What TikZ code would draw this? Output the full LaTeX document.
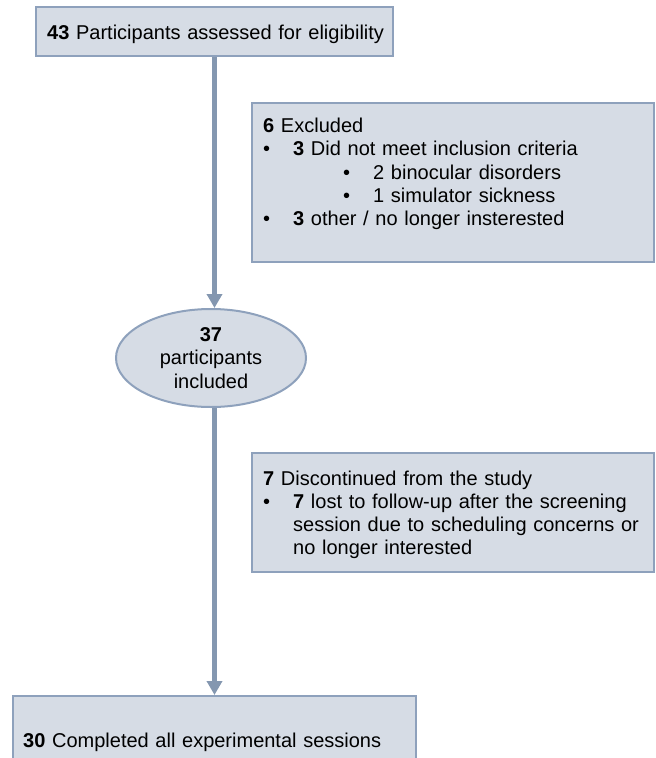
\documentclass[tikz,border=0pt]{standalone}
\usepackage{fontspec}
\setmainfont{Liberation Sans}
\usetikzlibrary{shapes.geometric,arrows.meta}
\definecolor{boxfill}{HTML}{D6DCE5}
\definecolor{boxline}{HTML}{8EA1BC}
\definecolor{arrowc}{HTML}{8497B0}
\newcommand{\bul}{\makebox[30pt][l]{•}}
\newcommand{\subbul}{\hspace*{80pt}\makebox[30pt][l]{•}}
\newcommand{\ind}{\hspace*{30pt}}
\begin{document}
\begin{tikzpicture}[x=1pt,y=-1pt,
  box/.style={draw=boxline, fill=boxfill, line width=2pt, rectangle, inner sep=0pt},
  ell/.style={draw=boxline, fill=boxfill, line width=2pt, ellipse, inner sep=0pt, align=center, font=\fontsize{20}{23.3}\selectfont},
  txt/.style={inner sep=0pt, text width=390pt, align=left, anchor=base west, font=\fontsize{20}{23.3}\selectfont},
  flow/.style={draw=arrowc, line width=5.5pt, -{Triangle[width=15pt,length=14pt]}}]
\useasboundingbox (0,0) rectangle (656,758);
\clip (0,0) rectangle (656,758);
% boxes
\node[box, minimum width=357pt, minimum height=49pt] (assess) at (214.5,31.5) {};
\node[box, minimum width=402pt, minimum height=159pt] (excl) at (453,182.5) {};
\node[ell, minimum width=190pt, minimum height=98pt] (incl) at (211,358) {\textbf{37}\\participants\\included};
\node[box, minimum width=402pt, minimum height=119pt] (disc) at (453,512.5) {};
\node[box, minimum width=403pt, minimum height=90pt] (done) at (214.5,741) {};
% texts
\node[txt] (assesstxt) at (47,39.5) {\textbf{43} Participants assessed for eligibility};
\node[txt] (excltxt) at (263,132.5) {\textbf{6} Excluded\\
\bul\textbf{3} Did not meet inclusion criteria\\
\subbul 2 binocular disorders\\
\subbul 1 simulator sickness\\
\bul\textbf{3} other / no longer insterested};
\node[txt] (disctxt) at (263,485) {\textbf{7} Discontinued from the study\\
\bul\textbf{7} lost to follow-up after the screening\\
\ind session due to scheduling concerns or\\
\ind no longer interested};
\node[txt] (donetxt) at (23,747) {\textbf{30} Completed all experimental sessions};
% connectors
\draw[flow] (assess.south) -- (assess.south |- incl.north);
\draw[flow] (assess.south |- incl.south) -- (done.north);
\end{tikzpicture}
\end{document}
